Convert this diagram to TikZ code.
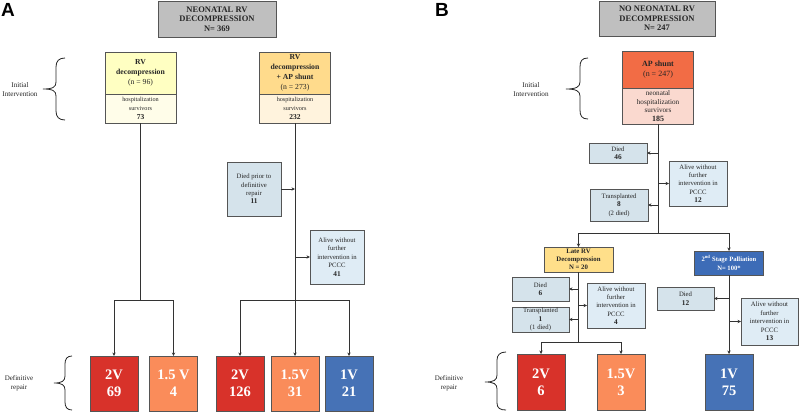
\documentclass[tikz,border=0pt]{standalone}
\usepackage{fontspec}
\setmainfont{Liberation Serif}
\newfontfamily\labelfont{Liberation Sans}
\usetikzlibrary{arrows.meta}
\definecolor{titlegray}{HTML}{BFBFBF}
\definecolor{boxline}{HTML}{555555}
\definecolor{linec}{HTML}{333333}
\definecolor{textc}{HTML}{262626}
\definecolor{rvtop}{HTML}{FFFFC2}
\definecolor{rvbot}{HTML}{FFFDE9}
\definecolor{aptop}{HTML}{FFDB8C}
\definecolor{apbot}{HTML}{FFF3DD}
\definecolor{shtop}{HTML}{F26C45}
\definecolor{shbot}{HTML}{FAD9CF}
\definecolor{outfill}{HTML}{D5E3EB}
\definecolor{alivefill}{HTML}{DFECF5}
\definecolor{red2v}{HTML}{D8322A}
\definecolor{org15v}{HTML}{FA8C5A}
\definecolor{blue1v}{HTML}{4672B6}
\definecolor{lateyel}{HTML}{FFDF8A}
\definecolor{stageblue}{HTML}{3D6CB7}
\tikzset{
  sz/.style 2 args={minimum width=#1pt, minimum height=#2pt},
  bx/.style={draw=boxline, line width=0.8pt, inner sep=0pt, outer sep=0pt, align=center, text=textc},
  titlebox/.style={bx, fill=titlegray, font=\fontsize{8.5}{9.6}\selectfont\bfseries},
  headbox/.style={bx, font=\fontsize{7.7}{10}\selectfont},
  subbox/.style={bx, font=\fontsize{6.2}{8.8}\selectfont},
  outbox/.style={bx, fill=outfill, font=\fontsize{6.7}{8.4}\selectfont},
  alivebox/.style={bx, fill=alivefill, font=\fontsize{6.7}{8.4}\selectfont},
  repairbox/.style={bx, text=white, font=\fontsize{14.5}{17}\selectfont\bfseries},
  conn/.style={draw=linec, line width=0.8pt},
  arr/.style={conn, -{Stealth[length=3.5pt,width=3.4pt]}},
  bracel/.style={draw=black!85, line width=0.8pt},
  sidetext/.style={font=\fontsize{7.2}{9}\selectfont, align=center, text=textc},
  panel/.style={font=\labelfont\fontsize{19}{19}\selectfont\bfseries, text=black}
}
\begin{document}
\begin{tikzpicture}[x=1pt,y=-1pt]
\useasboundingbox (0,0) rectangle (799,412);
\fill[white] (0,0) rectangle (799,412);

% ---------- panel labels ----------
\node[panel] (labA) at (8,10) {A};
\node[panel] (labB) at (442,10) {B};

% ---------- Panel A ----------
\node[titlebox, sz={118}{36}] (topA) at (217,19) {NEONATAL RV\\DECOMPRESSION\\N= 369};

\node[headbox, fill=rvtop, sz={71}{42}] (rvT) at (140.5,73) {\textbf{RV}\\\textbf{decompression}\\(n = 96)};
\node[subbox, fill=rvbot, sz={71}{29}] (rvB) at (140.5,108.5) {hospitalization\\survivors\\{\fontsize{7.5}{8.8}\selectfont\textbf{73}}};

\node[headbox, fill=aptop, sz={71}{42}] (apT) at (295,73) {\textbf{RV}\\\textbf{decompression}\\\textbf{+ AP shunt}\\(n = 273)};
\node[subbox, fill=apbot, sz={71}{29}] (apB) at (295,108.5) {hospitalization\\survivors\\{\fontsize{7.5}{8.8}\selectfont\textbf{232}}};

\node[outbox, sz={54}{54}] (diedA) at (254,189) {Died prior to\\definitive\\repair\\{\fontsize{7.3}{8.4}\selectfont\textbf{11}}};
\node[alivebox, sz={54}{54}] (aliveA) at (337,257) {Alive without\\further\\intervention in\\PCCC\\{\fontsize{7.3}{8.4}\selectfont\textbf{41}}};

\node[repairbox, fill=red2v, sz={48}{55}] (a2v) at (114,383.5) {2V\\69};
\node[repairbox, fill=org15v, sz={48}{55}] (a15v) at (173.5,383.5) {1.5 V\\4};
\node[repairbox, fill=red2v, sz={48}{55}] (b2v) at (240,383.5) {2V\\126};
\node[repairbox, fill=org15v, sz={48}{55}] (b15v) at (295,383.5) {1.5V\\31};
\node[repairbox, fill=blue1v, sz={48}{55}] (b1v) at (349,383.5) {1V\\21};

\coordinate (jA1) at (140.5,300);
\coordinate (jA2) at (295,300);
\draw[conn] (rvB.south) -- (jA1);
\draw[arr] (jA1) -| (a2v.north);
\draw[arr] (jA1) -| (a15v.north);
\draw[conn] (apB.south) -- (jA2);
\draw[arr] (jA2) -| (b2v.north);
\draw[arr] (jA2) -- (b15v.north);
\draw[arr] (jA2) -| (b1v.north);
\draw[arr] (diedA.east) -- (diedA.east -| apB.south);
\draw[arr] (aliveA.west -| apB.south) -- (aliveA.west);

% braces A
\draw[bracel] (65,58) .. controls (59,58) and (56,61) .. (56,67) -- (56,82)
  .. controls (56,87) and (53,89) .. (43,89) .. controls (53,89) and (56,91) .. (56,96)
  -- (56,111) .. controls (56,117) and (59,120) .. (65,120);
\node[sidetext] (iniA) at (20,90) {Initial\\Intervention};
\draw[bracel] (72,356) .. controls (67,356) and (65,359) .. (65,364) -- (65,376)
  .. controls (65,381) and (62,383) .. (54,383) .. controls (62,383) and (65,385) .. (65,390)
  -- (65,402) .. controls (65,407) and (67,410) .. (72,410);
\node[sidetext, font=\fontsize{7}{9}\selectfont] (defA) at (19,383) {Definitive\\repair};

% ---------- Panel B ----------
\node[titlebox, sz={116}{35}] (topB) at (657,18.5) {NO NEONATAL RV\\DECOMPRESSION\\N= 247};

\node[headbox, fill=shtop, sz={71}{37}, font=\fontsize{8}{10}\selectfont] (shT) at (658,69.5) {\textbf{AP shunt}\\(n = 247)};
\node[subbox, fill=shbot, sz={71}{36}, font=\fontsize{7.2}{8.7}\selectfont] (shB) at (658,106) {neonatal\\hospitalization\\survivors\\{\fontsize{8}{8.7}\selectfont\textbf{185}}};

\node[outbox, sz={58}{20}] (died46) at (618,153) {Died\\{\fontsize{7.3}{8.4}\selectfont\textbf{46}}};
\node[alivebox, sz={58}{45}] (alive12) at (698,183.5) {Alive without\\further\\intervention in\\PCCC\\{\fontsize{7.3}{8.4}\selectfont\textbf{12}}};
\node[outbox, sz={58}{32}] (trans8) at (619,205) {Transplanted\\{\fontsize{7.3}{8.4}\selectfont\textbf{8}}\\(2 died)};

\node[bx, fill=lateyel, sz={69}{25}, font=\fontsize{6.8}{8}\selectfont\bfseries] (lateRV) at (578.5,259.5) {Late RV\\Decompression\\N = 20};
\node[bx, fill=stageblue, text=white, sz={69}{24}, font=\fontsize{6.6}{8.4}\selectfont\bfseries] (stage2) at (729,263) {2\textsuperscript{nd} Stage Palliation\\N= 100*};

\node[outbox, sz={57}{24}] (died6) at (540.5,289) {Died\\{\fontsize{7.3}{8.4}\selectfont\textbf{6}}};
\node[outbox, sz={57}{25}] (trans1) at (540.5,319.5) {Transplanted\\{\fontsize{7.3}{8.4}\selectfont\textbf{1}}\\(1 died)};
\node[alivebox, sz={58}{45}] (alive4) at (616,305.5) {Alive without\\further\\intervention in\\PCCC\\{\fontsize{7.3}{8.4}\selectfont\textbf{4}}};

\node[outbox, sz={57}{23}] (died12) at (685.5,298.5) {Died\\{\fontsize{7.3}{8.4}\selectfont\textbf{12}}};
\node[alivebox, sz={57}{47}] (alive13) at (769.5,321.5) {Alive without\\further\\intervention in\\PCCC\\{\fontsize{7.3}{8.4}\selectfont\textbf{13}}};

\node[repairbox, fill=red2v, sz={48}{56}] (c2v) at (541,382) {2V\\6};
\node[repairbox, fill=org15v, sz={48}{56}] (c15v) at (621,382) {1.5V\\3};
\node[repairbox, fill=blue1v, sz={48}{56}] (c1v) at (729,382) {1V\\75};

\coordinate (jB1) at (658,233);
\coordinate (jB2) at (578.5,342);
\draw[conn] (shB.south) -- (jB1);
\draw[arr] (died46.east -| shB.south) -- (died46.east);
\draw[arr] (alive12.west -| shB.south) -- (alive12.west);
\draw[arr] (trans8.east -| shB.south) -- (trans8.east);
\draw[arr] (jB1) -| (lateRV.north);
\draw[arr] (jB1) -| (stage2.north);

\draw[conn] (lateRV.south) -- (jB2);
\draw[arr] (died6.east -| lateRV.south) -- (died6.east);
\draw[arr] (trans1.east -| lateRV.south) -- (trans1.east);
\draw[arr] (alive4.west -| lateRV.south) -- (alive4.west);
\draw[arr] (jB2) -| (c2v.north);
\draw[arr] (jB2) -| (c15v.north);

\draw[arr] (stage2.south) -- (c1v.north);
\draw[arr] (died12.east -| stage2.south) -- (died12.east);
\draw[arr] (alive13.west -| stage2.south) -- (alive13.west);

% braces B
\draw[bracel] (588,58) .. controls (582,58) and (580,61) .. (580,67) -- (580,82)
  .. controls (580,87) and (576,89) .. (566,89) .. controls (576,89) and (580,91) .. (580,96)
  -- (580,110) .. controls (580,116) and (582,119) .. (588,119);
\node[sidetext] (iniB) at (531,90) {Initial\\Intervention};
\draw[bracel] (506,352) .. controls (500,352) and (497,355) .. (497,360) -- (497,375)
  .. controls (497,380) and (494,382) .. (485,382) .. controls (494,382) and (497,384) .. (497,389)
  -- (497,403) .. controls (497,408) and (500,410) .. (506,410);
\node[sidetext, font=\fontsize{7}{9}\selectfont] (defB) at (449,383) {Definitive\\repair};
\end{tikzpicture}
\end{document}
